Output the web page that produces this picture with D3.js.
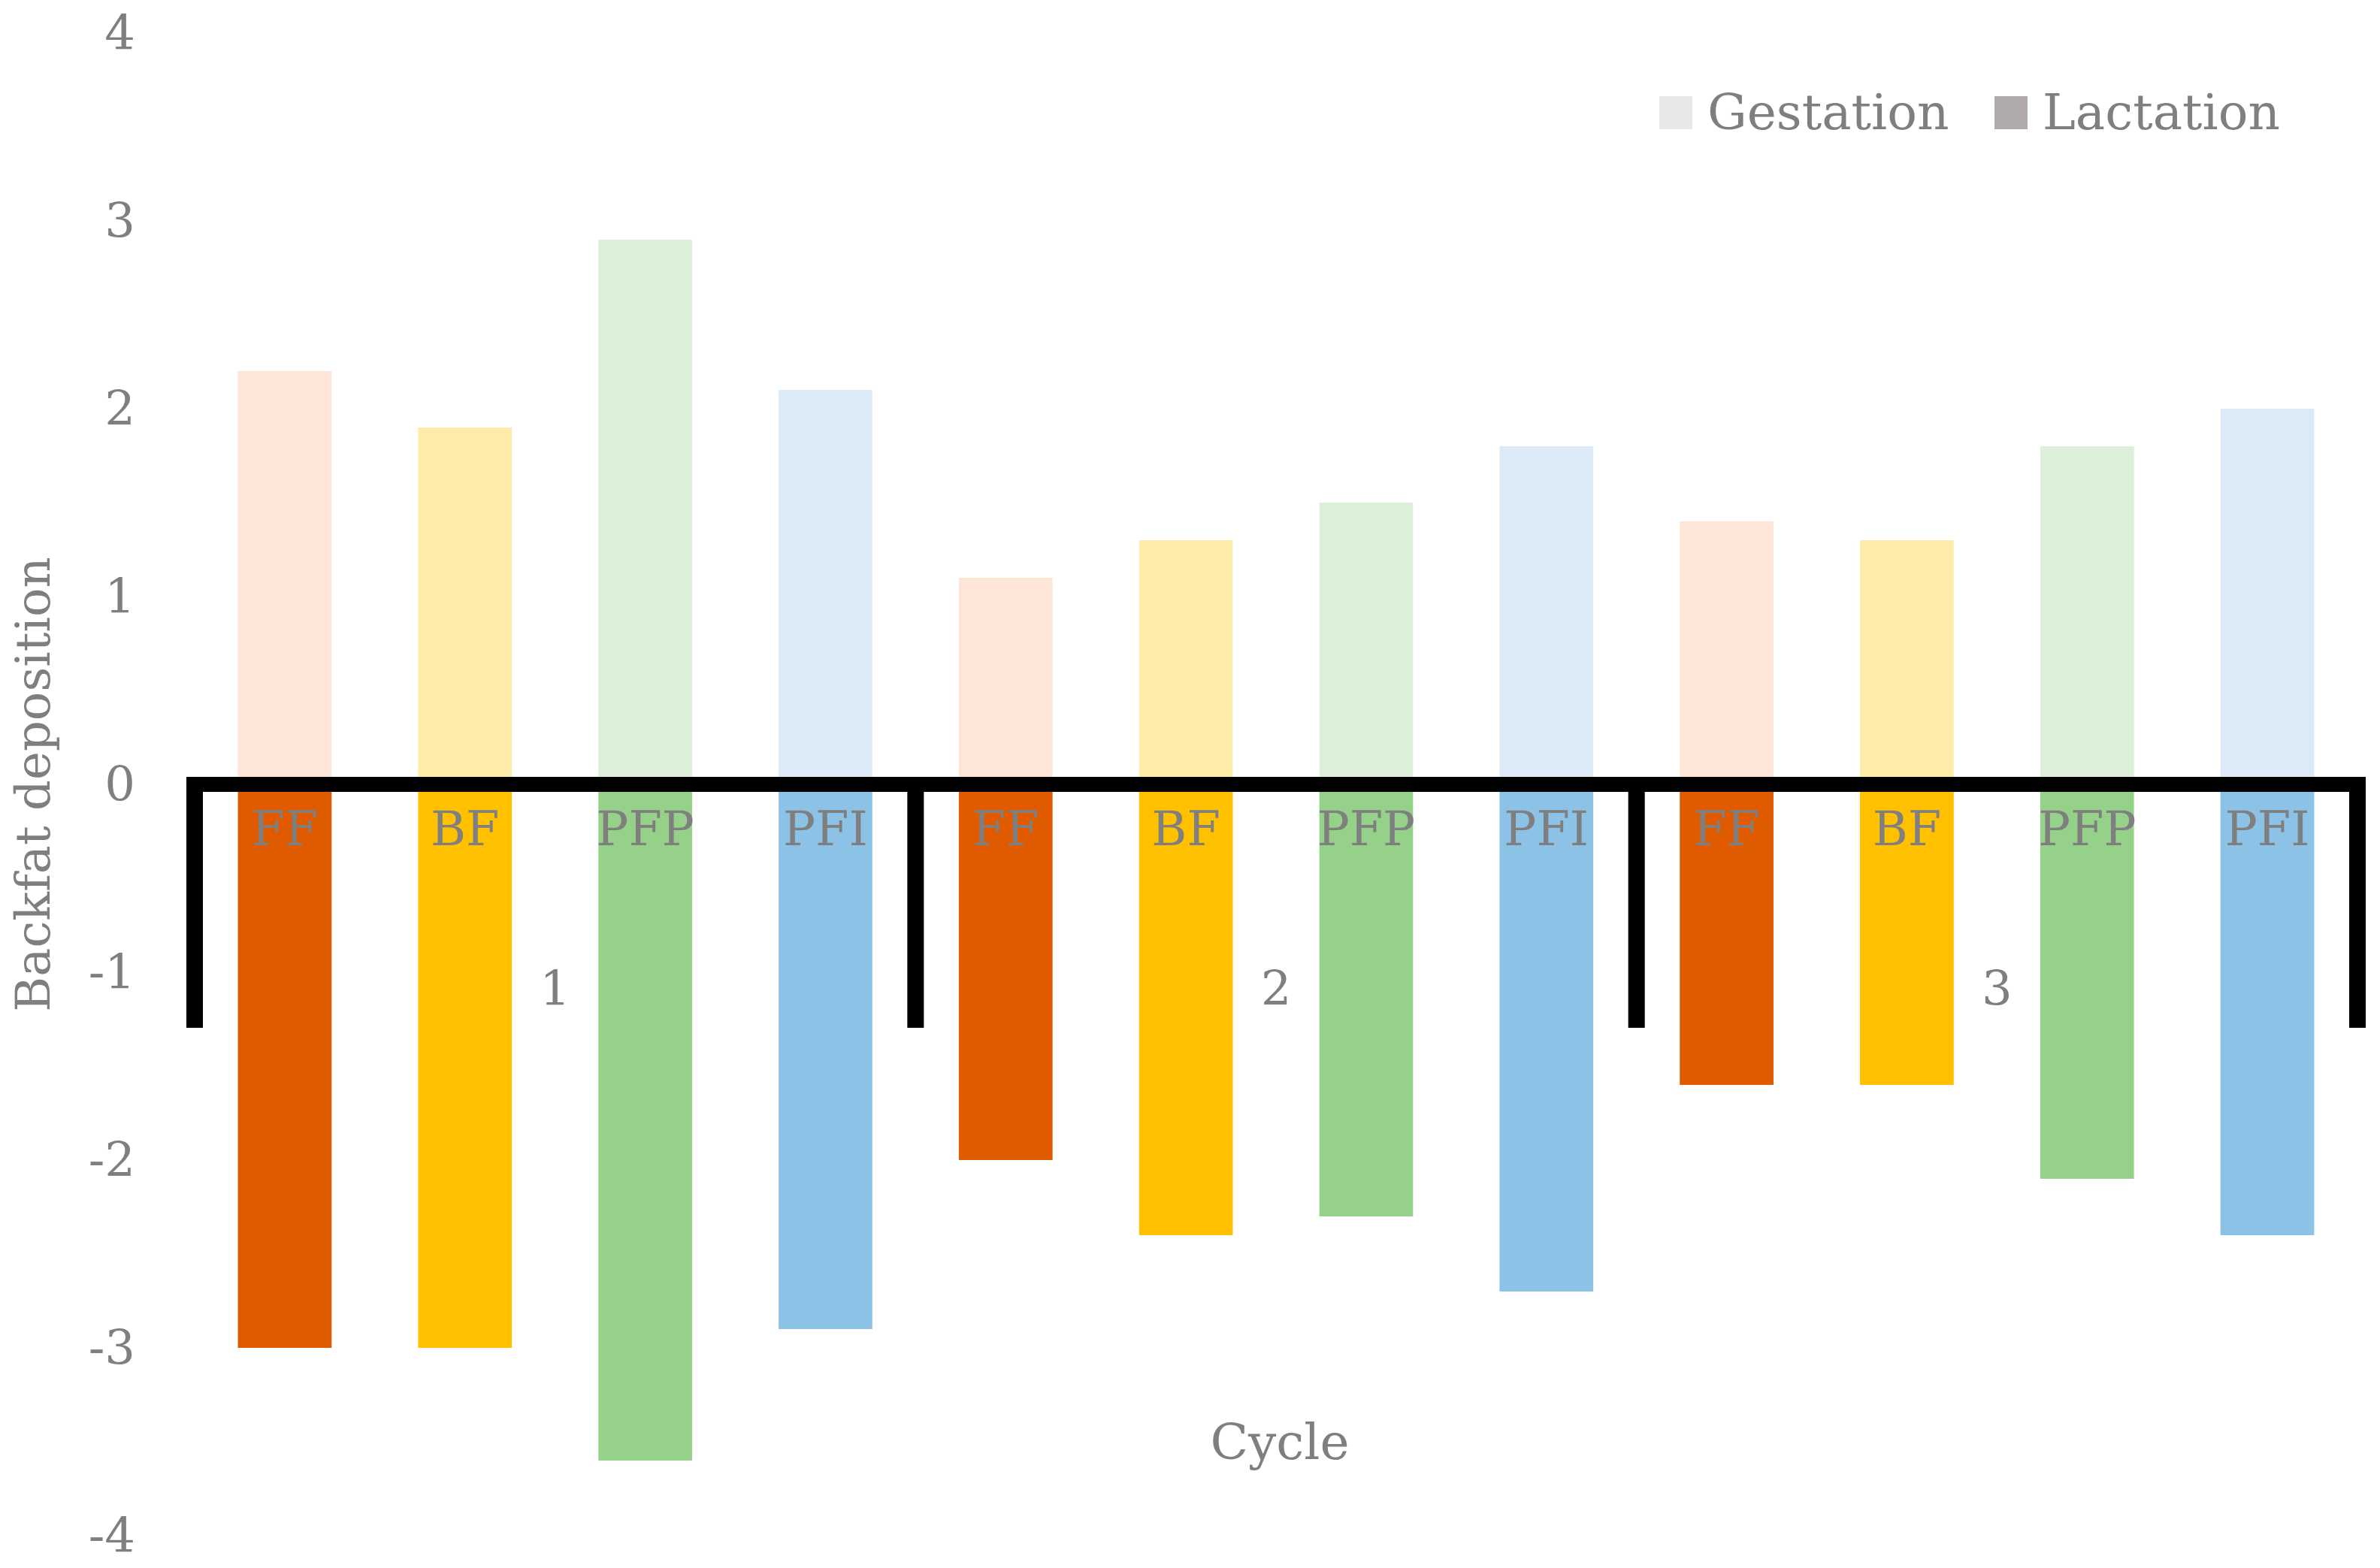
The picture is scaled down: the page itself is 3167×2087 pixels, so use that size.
<!DOCTYPE html>
<html><head><meta charset="utf-8">
<script src="https://cdn.jsdelivr.net/npm/d3@7"></script>
<style>body{margin:0;background:#fff}text{font-family:"DejaVu Serif","Liberation Serif",serif;fill:#7f7f7f}</style>
</head><body><svg id="c" width="3167" height="2087"></svg>
<script>
var cycles = ["1", "2", "3"];
var treatments = ["FF", "BF", "PFP", "PFI"];
var gestation = [[2.2, 1.9, 2.9, 2.1], [1.1, 1.3, 1.5, 1.8], [1.4, 1.3, 1.8, 2.0]];
var lactation = [[-3.0, -3.0, -3.6, -2.9], [-2.0, -2.4, -2.3, -2.7], [-1.6, -1.6, -2.1, -2.4]];
var yTicks = [-4, -3, -2, -1, 0, 1, 2, 3, 4];
var lightColors = ["#fde5d8", "#fdeca9", "#dcefd8", "#dbeaf6"];
var darkColors = ["#e05a00", "#ffc000", "#95d189", "#8cc2e6"];

var svg = d3.select("#c");
var y = d3.scaleLinear().domain([-4, 4]).range([2044, 44]);
var xg = d3.scaleBand().domain(cycles).range([259, 3137]);
var xb = d3.scaleBand().domain(treatments).range([0, xg.bandwidth()]).paddingInner(0.48).paddingOuter(0.24);

svg.selectAll(".yt").data(yTicks).enter().append("text")
  .attr("x", 180).attr("y", function(d){ return y(d) + 22; })
  .attr("text-anchor", "end").style("font-size", "64px").text(function(d){ return d; });

svg.append("text").attr("transform", "translate(66," + y(0) + ") rotate(-90)")
  .attr("text-anchor", "middle").style("font-size", "64px").text("Backfat deposition");

var g = svg.selectAll(".grp").data(cycles).enter().append("g")
  .attr("transform", function(d){ return "translate(" + xg(d) + ",0)"; });

g.each(function(c, i){
  var gg = d3.select(this);
  treatments.forEach(function(t, j){
    gg.append("rect").attr("x", xb(t)).attr("width", xb.bandwidth())
      .attr("y", y(gestation[i][j])).attr("height", y(0) - y(gestation[i][j]))
      .attr("fill", lightColors[j]);
    gg.append("rect").attr("x", xb(t)).attr("width", xb.bandwidth())
      .attr("y", y(0)).attr("height", y(lactation[i][j]) - y(0))
      .attr("fill", darkColors[j]);
    gg.append("text").attr("x", xb(t) + xb.bandwidth() / 2).attr("y", 1125)
      .attr("text-anchor", "middle").style("font-size", "64px").text(t);
  });
  gg.append("text").attr("x", xg.bandwidth() / 2).attr("y", 1338)
    .attr("text-anchor", "middle").style("font-size", "64px").text(c);
});

// category axis
svg.append("line").attr("x1", xg.range()[0]).attr("x2", xg.range()[1])
  .attr("y1", y(0)).attr("y2", y(0)).attr("stroke", "#000").attr("stroke-width", 20);
var bounds = cycles.map(function(c){ return xg(c); }).concat([xg.range()[1]]);
svg.selectAll(".tk").data(bounds).enter().append("line")
  .attr("x1", function(d){ return d; }).attr("x2", function(d){ return d; })
  .attr("y1", y(0) - 10).attr("y2", 1368).attr("stroke", "#000").attr("stroke-width", 22);

svg.append("text").attr("x", 1703).attr("y", 1942).attr("text-anchor", "middle")
  .style("font-size", "66px").text("Cycle");

// legend
var legend = [["Gestation", "#e8e8e8", 2208], ["Lactation", "#b0aaaa", 2654]];
legend.forEach(function(l){
  svg.append("rect").attr("x", l[2]).attr("y", 128).attr("width", 44).attr("height", 44).attr("fill", l[1]);
  svg.append("text").attr("x", l[2] + 64).attr("y", 172).style("font-size", "66px").text(l[0]);
});
</script></body></html>
